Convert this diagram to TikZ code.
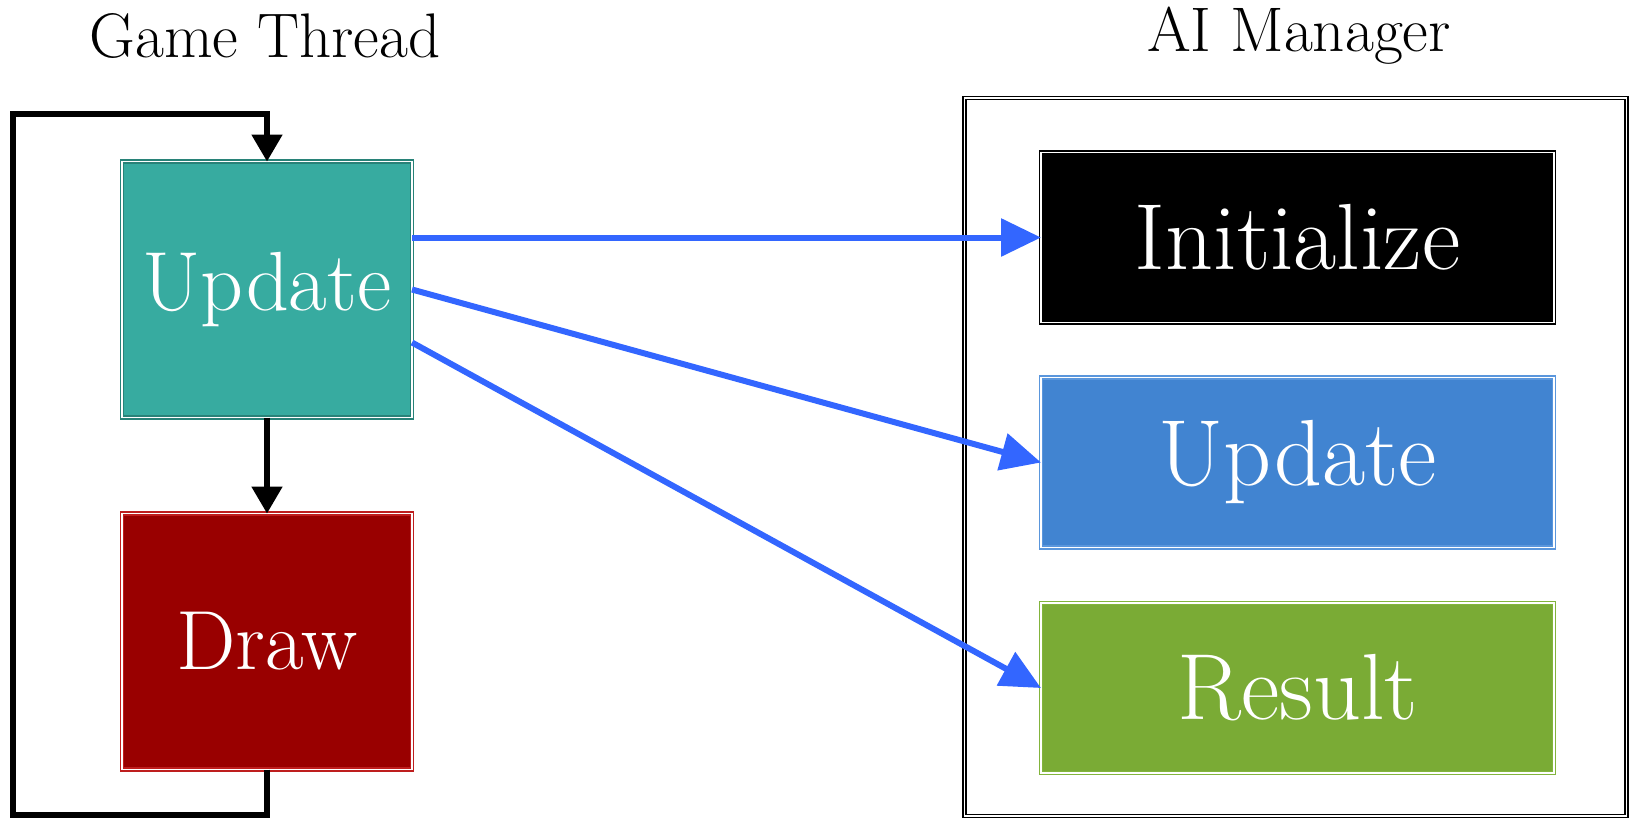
\documentclass[tikz,border=0pt]{standalone}
\usepackage{fontspec}
\usetikzlibrary{arrows.meta}
\definecolor{tealfill}{RGB}{55,171,160}
\definecolor{tealline}{RGB}{40,130,120}
\definecolor{redfill}{RGB}{153,0,0}
\definecolor{redline}{RGB}{190,30,30}
\definecolor{bluefill}{RGB}{65,132,209}
\definecolor{blueline}{RGB}{90,150,220}
\definecolor{greenfill}{RGB}{122,171,53}
\definecolor{greenline}{RGB}{130,180,60}
\definecolor{arrowblue}{RGB}{51,102,255}
\tikzset{
  box/.style={rectangle, inner sep=0pt, outer sep=0pt, text=white,
    line width=0.7pt, double=white, double distance=0.8pt},
  gbox/.style={box, minimum width=145pt, minimum height=128pt, font=\fontsize{42}{44}\selectfont},
  abox/.style={box, minimum width=256.5pt, minimum height=85pt, font=\fontsize{47}{49}\selectfont},
  title/.style={font=\fontsize{31.5}{33}\selectfont, inner sep=0pt},
  loopline/.style={line width=2.6pt, -{Triangle[length=13.5pt,width=15pt]}},
  callarrow/.style={line width=3pt, draw=arrowblue, -{Triangle[length=20pt,width=18.5pt]}},
}
\begin{document}
\begin{tikzpicture}[x=0.5pt,y=-0.5pt]
\useasboundingbox (0,0) rectangle (1632,819);
\node[title] (gt) at (265,36) {Game Thread};
\node[title] (aim) at (1299,36) {AI Manager};
\node[rectangle, draw=black, line width=0.7pt, double=white, double distance=0.9pt,
  minimum width=331pt, minimum height=359pt, inner sep=0pt] (cont) at (1295.5,457) {};
\node[gbox, fill=tealfill, draw=tealline] (upd) at (267,289.5) {Update};
\node[gbox, fill=redfill, draw=redline] (drw) at (267,641.5) {Draw};
\node[abox, fill=black, draw=black] (init) at (1297.5,237.5) {Initialize};
\node[abox, fill=bluefill, draw=blueline] (aupd) at (1297.5,462.5) {Update};
\node[abox, fill=greenfill, draw=greenline] (res) at (1297.5,688) {Result};
\coordinate (lb) at (13,815);
\coordinate (lt) at (13,114);
\draw[loopline] (upd.south) -- (drw.north);
\draw[loopline] (drw.south) |- (lb) -- (lt) -| (upd.north);
\draw[callarrow] ([yshift=26pt]upd.east) -- (init.west);
\draw[callarrow] (upd.east) -- (aupd.west);
\draw[callarrow] ([yshift=-26.5pt]upd.east) -- (res.west);
\end{tikzpicture}
\end{document}
